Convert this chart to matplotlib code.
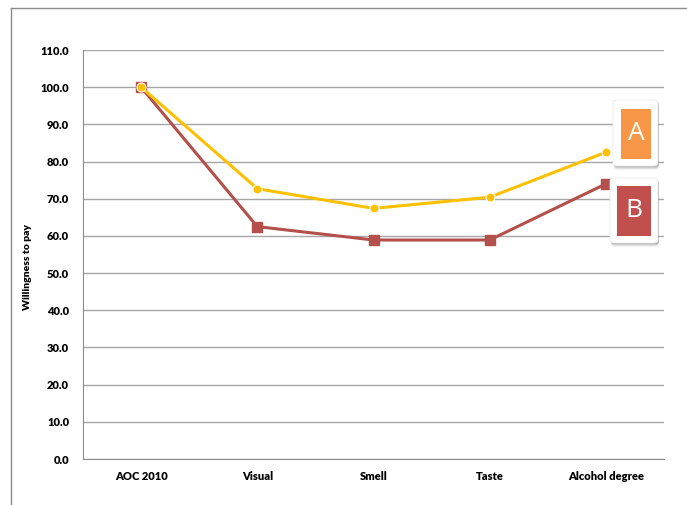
import matplotlib
matplotlib.use("Agg")
import matplotlib.pyplot as plt
from matplotlib.patches import FancyBboxPatch, Rectangle

plt.rcParams['font.family'] = ['Lato', 'DejaVu Sans']

categories = ["AOC 2010", "Visual", "Smell", "Taste", "Alcohol degree"]
series_a = [100.0, 72.7, 67.4, 70.4, 82.5]
series_b = [100.0, 62.5, 58.9, 58.9, 74.0]
yticks = [0, 10, 20, 30, 40, 50, 60, 70, 80, 90, 100, 110]

W, H = 687, 505
fig = plt.figure(figsize=(W / 100, H / 100), dpi=100)
fig.patch.set_facecolor("white")

# outer frame (cut by the image edge on the right and bottom)
fig.add_artist(plt.Line2D([11 / W, 11 / W], [0, 1 - 8 / H], color="#8c8c8c", lw=1.0))
fig.add_artist(plt.Line2D([11 / W, 1], [1 - 8 / H, 1 - 8 / H], color="#8c8c8c", lw=1.0))

ax = fig.add_axes([83 / W, 1 - 459 / H, 581 / W, 409 / H])
x = [i + 0.5 for i in range(len(categories))]

for t in yticks:
    ax.axhline(t, color="#a6a6a6", lw=1.0, zorder=0)

ax.plot(x, series_b, color="#b3504c", lw=2.2, marker="s", ms=7.5,
        mfc="#b3504c", mec="#b3504c", zorder=3)
ax.plot(x, series_a, color="#ffc000", lw=2.2, marker="o", ms=6.5,
        mfc="#ffc000", mec="white", mew=0.8, zorder=4)

ax.set_xlim(0, len(categories))
ax.set_ylim(0, 110)
ax.set_xticks(x)
ax.set_xticklabels(categories, fontsize=8, fontweight="heavy")
ax.set_yticks(yticks)
ax.set_yticklabels([f"{t:.1f}" for t in yticks], fontsize=8, fontweight="heavy")
ax.tick_params(length=0, pad=10)
ax.tick_params(axis="x", pad=9)
for side in ["top", "right"]:
    ax.spines[side].set_visible(False)
ax.spines["left"].set_color("#8c8c8c")
ax.spines["bottom"].set_color("#8c8c8c")
ax.set_ylabel("Willingness to pay", fontsize=7.5, fontweight="heavy")
ax.yaxis.set_label_coords(-0.088, 0.47)


def card(x0, y0, x1, y1, ix0, iy0, ix1, iy1, color, label):
    # white card with a soft shadow and a coloured tile with a letter
    for k, a in enumerate([0.05, 0.07, 0.09, 0.11]):
        off = 4 - k
        sh = FancyBboxPatch(((x0 + 1) / W, 1 - (y1 + off) / H), (x1 - x0) / W, (y1 - y0) / H,
                            boxstyle="round,pad=0,rounding_size=0.006",
                            transform=fig.transFigure, fc="black", ec="none", alpha=a)
        fig.add_artist(sh)
    c = FancyBboxPatch((x0 / W, 1 - y1 / H), (x1 - x0) / W, (y1 - y0) / H,
                       boxstyle="round,pad=0,rounding_size=0.006",
                       transform=fig.transFigure, fc="white", ec="#e6e6e6", lw=0.5)
    fig.add_artist(c)
    r = Rectangle((ix0 / W, 1 - iy1 / H), (ix1 - ix0) / W, (iy1 - iy0) / H,
                  transform=fig.transFigure, fc=color, ec="none")
    fig.add_artist(r)
    fig.text((ix0 + ix1) / 2 / W, 1 - (iy0 + iy1) / 2 / H, label, color="white",
             fontsize=19, ha="center", va="center", family=["Open Sans", "DejaVu Sans"])


card(613, 100, 658, 166, 621, 109, 651, 159, "#f79646", "A")
card(610, 178, 658, 243, 617, 186, 651, 236, "#c0504d", "B")

fig.savefig("out.png", dpi=100)
